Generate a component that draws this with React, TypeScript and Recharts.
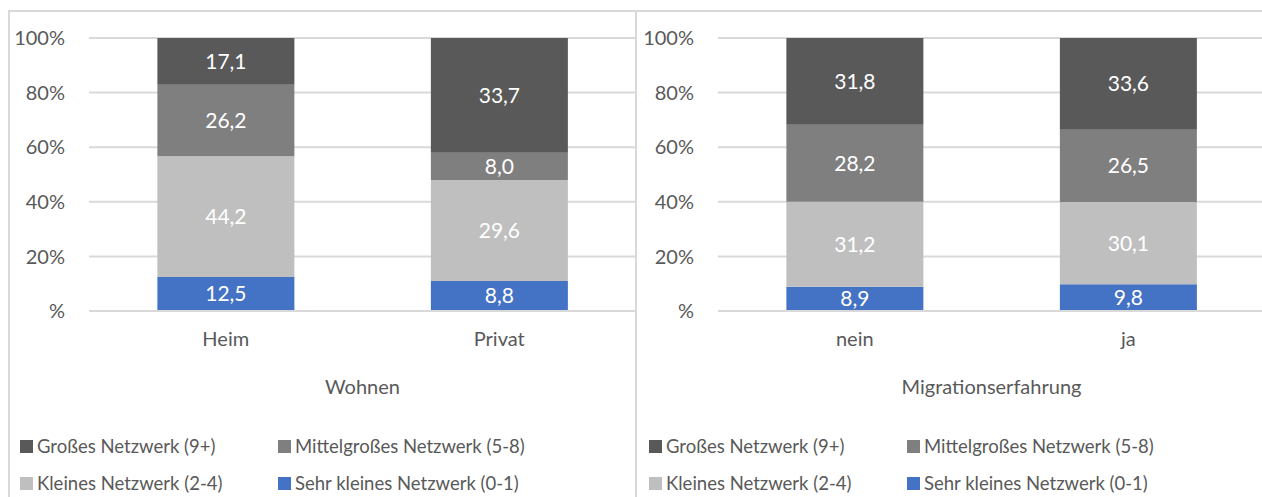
import { BarChart, Bar, XAxis, YAxis, CartesianGrid, LabelList, Legend } from "recharts";

const wohnenCats = ["Heim", "Privat"];
const migrationCats = ["nein", "ja"];

// values in % (bottom to top)
const wohnenSehrKlein = [12.5, 8.8];
const wohnenKlein = [44.2, 29.6];
const wohnenMittel = [26.2, 8.0];
const wohnenGross = [17.1, 33.7];

const migSehrKlein = [8.9, 9.8];
const migKlein = [31.2, 30.1];
const migMittel = [28.2, 26.5];
const migGross = [31.8, 33.6];

const yTicks = [0, 0.2, 0.4, 0.6, 0.8, 1];

const series = [
  { key: "sehrKlein", name: "Sehr kleines Netzwerk (0-1)", color: "#4472c4" },
  { key: "klein", name: "Kleines Netzwerk (2-4)", color: "#bfbfbf" },
  { key: "mittel", name: "Mittelgroßes Netzwerk (5-8)", color: "#7f7f7f" },
  { key: "gross", name: "Großes Netzwerk (9+)", color: "#595959" },
];

// legend order as in the picture (row by row)
const legendOrder = ["gross", "mittel", "klein", "sehrKlein"];

const FONT = "Lato, sans-serif";
const TEXT = "#595959";

function build(cats: string[], a: number[], b: number[], c: number[], d: number[]) {
  return cats.map((name, i) => ({ name, sehrKlein: a[i], klein: b[i], mittel: c[i], gross: d[i] }));
}

const wohnenData = build(wohnenCats, wohnenSehrKlein, wohnenKlein, wohnenMittel, wohnenGross);
const migData = build(migrationCats, migSehrKlein, migKlein, migMittel, migGross);

const fmt = (v: any) => Number(v).toFixed(1).replace(".", ",");

function LegendBox() {
  return (
    <div style={{ position: "relative", width: 629, height: 80, fontFamily: FONT, fontSize: 18.5, color: TEXT }}>
      {legendOrder.map((k, i) => {
        const s = series.find((x) => x.key === k)!;
        const col = i % 2;
        const row = Math.floor(i / 2);
        return (
          <div
            key={k}
            style={{
              position: "absolute",
              left: col === 0 ? 12 : 270,
              top: row * 37,
              display: "flex",
              alignItems: "center",
              whiteSpace: "nowrap",
              height: 26,
            }}
          >
            <span style={{ display: "inline-block", width: 13, height: 13, background: s.color, marginRight: 4 }} />
            <span>{s.name}</span>
          </div>
        );
      })}
    </div>
  );
}

function Panel({ data, title }: { data: any[]; title: string }) {
  return (
    <BarChart
      width={629}
      height={487}
      data={data}
      stackOffset="expand"
      barCategoryGap="25%"
      margin={{ top: 28, right: 1, left: 0, bottom: 0 }}
    >
      <CartesianGrid stroke="#d9d9d9" strokeWidth={2} vertical={false} />
      <XAxis
        dataKey="name"
        height={186}
        axisLine={{ stroke: "#d9d9d9", strokeWidth: 2 }}
        tickLine={false}
        tickMargin={15}
        tick={{ fontSize: 20, fill: TEXT, fontFamily: FONT }}
        label={{ value: title, position: "insideTop", offset: 69, fontSize: 20, fill: TEXT, fontFamily: FONT }}
      />
      <YAxis
        width={81}
        ticks={yTicks}
        domain={[0, 1]}
        axisLine={false}
        tickLine={false}
        tickMargin={18}
        tick={{ fontSize: 20, fill: TEXT, fontFamily: FONT }}
        tickFormatter={(v: number) => (v === 0 ? "%" : `${Math.round(v * 100)}%`)}
      />
      {series.map((s) => (
        <Bar key={s.key} dataKey={s.key} name={s.name} stackId="a" fill={s.color} isAnimationActive={false}>
          <LabelList
            dataKey={s.key}
            position="center"
            formatter={fmt}
            style={{ fill: "#ffffff", fontSize: 21, fontFamily: FONT }}
          />
        </Bar>
      ))}
      <Legend
        layout="horizontal"
        verticalAlign="middle"
        content={() => <LegendBox />}
        wrapperStyle={{ position: "absolute", left: 0, top: 423, width: 629 }}
      />
    </BarChart>
  );
}

export default function App() {
  return (
    <div
      style={{
        position: "absolute",
        left: 0,
        top: 0,
        width: 1262,
        height: 497,
        overflow: "hidden",
        background: "#ffffff",
      }}
    >
      <div
        style={{
          position: "absolute",
          left: 8,
          top: 10,
          width: 629,
          height: 500,
          borderLeft: "2px solid #d9d9d9",
          borderTop: "2px solid #d9d9d9",
          borderRight: "2px solid #d9d9d9",
          boxSizing: "border-box",
        }}
      />
      <div
        style={{
          position: "absolute",
          left: 635,
          top: 10,
          width: 640,
          height: 500,
          borderLeft: "2px solid #d9d9d9",
          borderTop: "2px solid #d9d9d9",
          boxSizing: "border-box",
        }}
      />
      <div style={{ position: "absolute", left: 8, top: 10 }}>
        <Panel data={wohnenData} title="Wohnen" />
      </div>
      <div style={{ position: "absolute", left: 637, top: 10 }}>
        <Panel data={migData} title="Migrationserfahrung" />
      </div>
    </div>
  );
}
